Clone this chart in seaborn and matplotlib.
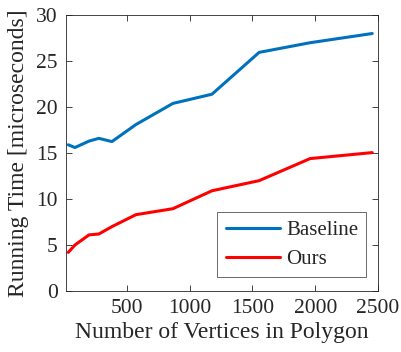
import matplotlib
matplotlib.use("Agg")
import matplotlib.pyplot as plt
import seaborn as sns
import pandas as pd

vertices = [32, 85, 197, 276, 380, 571, 866, 1177, 1553, 1959, 2454]
baseline = [15.9, 15.6, 16.3, 16.6, 16.25, 18.1, 20.4, 21.4, 25.95, 27.0, 28.0]
ours = [4.2, 5.0, 6.1, 6.2, 7.0, 8.3, 8.95, 10.9, 12.0, 14.4, 15.05]
series_names = ["Baseline", "Ours"]
colors = ["#0072BD", "#FF0000"]
xticks = [500, 1000, 1500, 2000, 2500]
yticks = [0, 5, 10, 15, 20, 25, 30]

df = pd.DataFrame({
    "Vertices": vertices * 2,
    "Time": baseline + ours,
    "Method": [series_names[0]] * len(vertices) + [series_names[1]] * len(vertices),
})

sns.set_style("white")
plt.rcParams["font.family"] = ["Liberation Serif", "DejaVu Serif"]

fig = plt.figure(figsize=(4.01, 3.52), dpi=100)
ax = fig.add_axes([0.1646, 0.1733, 0.778, 0.7837])

sns.lineplot(data=df, x="Vertices", y="Time", hue="Method", palette=colors,
             linewidth=2.2, ax=ax, legend=True)

ax.set_xlim(14, 2500)
ax.set_ylim(0, 30)
ax.set_xticks(xticks)
ax.set_yticks(yticks)
ax.tick_params(direction="in", length=4, width=0.6, colors="#262626",
               labelsize=15.5, top=True, right=True, bottom=True, left=True,
               labelcolor="#262626", pad=6)
for s in ax.spines.values():
    s.set_visible(True)
    s.set_color("#262626")
    s.set_linewidth(0.6)

ax.set_xlabel("Number of Vertices in Polygon", fontsize=17, color="#262626", labelpad=3)
ax.set_ylabel("Running Time [microseconds]", fontsize=17, color="#262626", labelpad=5)

leg = ax.legend(loc="lower right", bbox_to_anchor=(0.963, 0.05), borderaxespad=0,
                fontsize=15, frameon=True, fancybox=False, edgecolor="#262626",
                handlelength=2.6, borderpad=0.4, labelspacing=0.45, handletextpad=0.3)
leg.get_frame().set_linewidth(0.6)
for line in leg.get_lines():
    line.set_linewidth(2.2)

fig.savefig("out.png", dpi=100)
